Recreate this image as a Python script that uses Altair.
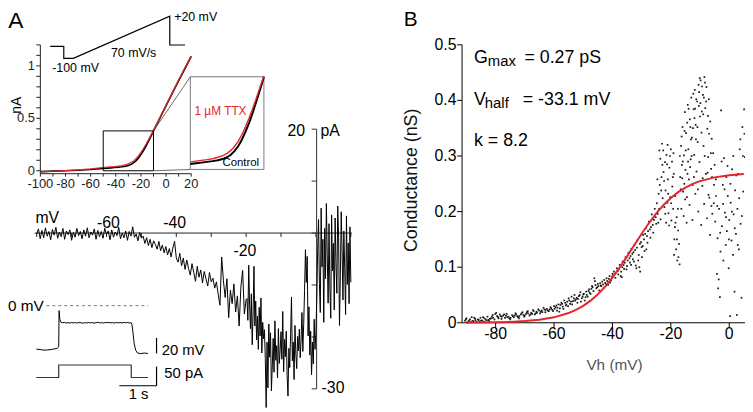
import altair as alt
import pandas as pd

FONT = "Liberation Sans"
RED = "#e4262c"
W, H = 753, 412

# ---------------- Panel A inset: ramp I-V (mV, nA) ----------------
iv_mv = [-100, -90, -80, -70, -60, -50, -47, -44, -41, -38, -35, -32, -30, -28, -26, -24, -22,
         -20, -18, -16, -14, -12, -10, -5, 0, 5, 10, 15, 20]
iv_control = [-0.008, -0.004, 0.000, 0.005, 0.012, 0.022, 0.025, 0.028, 0.031, 0.034, 0.038, 0.044,
              0.050, 0.060, 0.075, 0.095, 0.122, 0.155, 0.192, 0.235, 0.282, 0.330, 0.380,
              0.500, 0.620, 0.740, 0.860, 0.975, 1.090]
iv_ttx = [-0.011, -0.005, 0.001, 0.008, 0.018, 0.031, 0.034, 0.037, 0.040, 0.044, 0.050, 0.058,
          0.066, 0.078, 0.094, 0.115, 0.142, 0.175, 0.212, 0.252, 0.295, 0.340, 0.383,
          0.505, 0.625, 0.745, 0.865, 0.980, 1.095]
iv_xticks = [-100, -90, -80, -70, -60, -50, -40, -30, -20, -10, 0, 10, 20]
iv_xlabels = [-100, -80, -60, -40, -20, 0, 20]
iv_yticks = [0, 0.1, 0.2, 0.3, 0.4, 0.5, 0.6, 0.7, 0.8, 0.9, 1, 1.1, 1.2]
iv_ylabels = [(0, "0"), (0.5, "0.5"), (1, "1")]

# ramp protocol (s, mV)
ramp_t = [0, 0.24, 0.24, 0.41, 2.12, 2.12, 2.39]
ramp_mv = [-66, -66, -100, -100, 20, -62, -62]

# ---------------- Panel A main: current vs ramp voltage ----------------
trace_mv = [
    -80, -79.5, -79, -78.5, -78, -77.5, -77, -76.5, -76, -75.5,
    -75, -74.5, -74, -73.5, -73, -72.5, -72, -71.5, -71, -70.5,
    -70, -69.5, -69, -68.5, -68, -67.5, -67, -66.5, -66, -65.5,
    -65, -64.5, -64, -63.5, -63, -62.5, -62, -61.5, -61, -60.5,
    -60, -59.5, -59, -58.5, -58, -57.5, -57, -56.5, -56, -55.5,
    -55, -54.5, -54, -53.5, -53, -52.5, -52, -51.5, -51, -50.5,
    -50, -49.5, -49, -48.5, -48, -47.5, -47, -46.5, -46, -45.5,
    -45, -44.5, -44, -43.5, -43, -42.5, -42, -41.5, -41, -40.5,
    -40, -39.5, -39, -38.5, -38, -37.5, -37, -36.5, -36, -35.5,
    -35, -34.5, -34, -33.5, -33, -32.5, -32, -31.5, -31, -30.5,
    -30, -29.5, -29, -28.5, -28, -27.5, -27, -26.5, -26, -25.5,
    -25, -24.5, -24, -23.5, -23, -22.5, -22, -21.5, -21, -20.5, -20,
    -19.75, -19.5, -19.25, -19, -18.75, -18.5, -18.25, -18, -17.75, -17.5,
    -17.25, -17, -16.75, -16.5, -16.25, -16, -15.75, -15.5, -15.25, -15,
    -14.75, -14.5, -14.25, -14, -13.75, -13.5, -13.25, -13, -12.75, -12.5,
    -12.25, -12, -11.75, -11.5, -11.25, -11, -10.75, -10.5, -10.25, -10,
    -9.75, -9.5, -9.25, -9, -8.75, -8.5, -8.25, -8, -7.75, -7.5,
    -7.25, -7, -6.75, -6.5, -6.25, -6, -5.75, -5.5, -5.25, -5,
    -4.75, -4.5, -4.25, -4, -3.75, -3.5, -3.25, -3, -2.75, -2.5,
    -2.25, -2, -1.75, -1.5, -1.25, -1, -0.75, -0.5, -0.25, 0,
    0.25, 0.5, 0.75, 1, 1.25, 1.5, 1.75, 2, 2.25, 2.5,
    2.75, 3, 3.25, 3.5, 3.75, 4, 4.25, 4.5, 4.75, 5,
    5.25, 5.5, 5.75, 6, 6.25, 6.5, 6.75, 7, 7.25, 7.5,
    7.75, 8, 8.25, 8.5, 8.75, 9, 9.25, 9.5, 9.75, 10]
trace_pa = [
    -0.2, 0.8, -1.1, 0.5, -0.9, 1.0, -0.6, 0.3, -1.3, 0.7,
    -0.4, 1.1, -1.0, 0.2, -0.7, 0.9, -1.2, 0.4, -0.3, 0.6,
    -1.4, 0.1, -0.8, 0.9, -0.5, 0.3, -1.1, 0.6, -0.6, 1.0,
    -0.9, 0.2, -0.4, 0.8, -1.2, 0.5, -0.7, 0.3, -1.0, 0.9,
    -0.3, 0.4, -1.3, 0.6, -0.8, 0.2, -0.5, 1.1, -1.1, 0.0,
    -0.9, 0.4, -1.4, 0.3, -0.6, 1.2, -0.8, -0.2, -1.5, 0.1,
    -1.0, -0.6, -2.0, -0.9, -2.4, -1.2, -2.8, -1.5, -2.2, -3.1,
    -1.6, -3.4, -2.3, -3.8, -2.6, -4.2, -3.0, -4.6, -2.9, -1.6,
    -4.8, -5.6, -3.9, -6.3, -4.8, -7.0, -5.2, -6.8, -8.1, -5.9,
    -7.6, -9.3, -6.4, -8.5, -7.1, -9.6, -7.4, -8.8, -10.2, -7.6,
    -9.4, -8.7, -10.6, -9.4, -11.8, -13.9, -4.6, -9.2, -12.4, -8.8,
    -16.3, -11.0, -13.6, -9.8, -15.2, -12.1, -17.9, -10.4, -7.2, -15.6, -12.8,
    -12.6, -16.8, -6.2, -13.9, -18.4, -11.7, -21.5, -15.2, -6.4, -17.9,
    -13.1, -20.6, -16.0, -22.4, -14.3, -19.8, -12.5, -23.1, -17.2, -20.4,
    -18.6, -24.2, -33.6, -21.0, -29.8, -17.5, -23.9, -19.2, -30.4, -25.6,
    -20.3, -26.8, -16.9, -24.5, -21.7, -27.9, -18.4, -25.1, -22.6, -19.0,
    -24.3, -15.1, -26.7, -20.5, -23.8, -18.9, -27.5, -31.4, -22.2, -25.9,
    -19.4, -12.3, -24.6, -21.0, -28.2, -17.8, -23.4, -26.1, -19.9, -22.7,
    -18.5, -24.0, -20.6, -15.3, -22.8, -17.4, -11.0, -3.2, -9.5, -4.5,
    -19.8, -14.2, -23.5, -18.9, -27.3, -21.0, -25.2, -16.6, -22.4, -19.1,
    -12.4, -3.1, 2.6, -9.7, -15.3, 4.8, -6.5, -1.2, -17.2, 0.9,
    -8.8, 5.7, -4.4, -13.5, 1.8, -10.6, -16.4, 3.5, -7.3, -2.0,
    -14.8, 2.9, -5.9, -11.6, 5.2, -0.8, -17.8, -8.2, 4.1, -3.5,
    -12.9, 0.4, -6.8, -15.7, 3.3, -9.9, -1.9, -13.6, 1.2, -9.5]
trace_xticks = [-80, -70, -60, -50, -40, -30, -20, -10, 0, 10]
trace_yticks = [-30, -20, -10, 0, 10, 20]

# ---------------- Panel A bottom inset: membrane voltage and current step ----------------
vm_t = [0, 0.1, 0.2, 0.3, 0.4, 0.5, 0.56, 0.6, 0.61, 0.63, 0.66, 0.7,
        0.75, 0.8, 0.85, 0.9, 0.95, 1.0, 1.05, 1.1, 1.15, 1.2, 1.25, 1.3, 1.35, 1.4, 1.45,
        1.5, 1.55, 1.6, 1.65, 1.7, 1.75, 1.8, 1.85, 1.9, 1.95, 2.0, 2.05, 2.1, 2.15, 2.2,
        2.25, 2.3, 2.35, 2.4, 2.45, 2.5, 2.55,
        2.57, 2.6, 2.63, 2.67, 2.72, 2.8, 2.9, 3.0]
vm_mv = [-56.0, -56.5, -57.3, -57.0, -56.4, -55.6, -54.8, -53.0, -6.4, -17.5, -21.4, -22.0,
         -21.6, -22.3, -21.9, -22.5, -21.7, -22.2, -21.8, -22.4, -21.5, -22.1,
         -22.6, -21.9, -22.3, -21.6, -22.2, -21.8, -22.5, -22.0, -21.4, -22.3,
         -21.8, -22.4, -21.7, -22.0, -21.5, -22.2, -21.9, -22.4, -21.6, -22.1,
         -21.8, -22.3, -21.6, -22.0, -21.7, -22.2, -22.0,
         -24.5, -36.0, -49.0, -57.5, -61.0, -61.8, -61.0, -61.6]
step_t = [0, 0.6, 0.6, 2.55, 2.55, 3.0]
step_pa = [0, 0, 32.5, 32.5, 0, 0]

# ---------------- Panel B: conductance vs holding voltage ----------------
b_points = [
    (-90.5, .004), (-90.0, .008), (-89.4, .002), (-88.8, .006), (-88.2, .010), (-87.6, .003), (-87.0, .007),
    (-86.4, .001), (-85.8, .005), (-85.2, .009), (-84.6, .004), (-84.0, .002), (-83.4, .006), (-82.8, .011),
    (-82.2, .003), (-81.6, .008), (-81.0, .014), (-80.4, .006), (-79.8, .018), (-79.2, .010), (-78.6, .015),
    (-78.0, .007), (-77.4, .013), (-76.8, .009), (-76.2, .016), (-75.6, .011), (-75.0, .006), (-74.4, .014),
    (-73.8, .010), (-73.2, .017), (-72.6, .012), (-72.0, .008), (-71.4, .015), (-70.8, .019), (-70.2, .011),
    (-69.6, .016), (-69.0, .021), (-68.4, .013), (-67.8, .018), (-67.2, .023), (-66.6, .015), (-66.0, .020),
    (-65.4, .024), (-64.8, .017), (-64.2, .022), (-63.6, .027), (-63.0, .019), (-62.4, .025), (-61.8, .021),
    (-61.2, .028), (-60.6, .023), (-60.0, .030),
    (-89.7, .000), (-88.5, .001), (-86.9, .004), (-85.5, .002), (-83.9, .008), (-82.5, .005), (-80.9, .009),
    (-79.5, .012), (-77.9, .011), (-76.5, .013), (-74.9, .009), (-73.5, .013), (-71.9, .012), (-70.5, .014),
    (-68.9, .017), (-67.5, .016), (-65.9, .018), (-64.5, .020), (-62.9, .023), (-61.5, .024),
    (-59.5, .028), (-59.0, .022), (-58.5, .033), (-58.0, .026), (-57.5, .036), (-57.0, .029), (-56.5, .040),
    (-56.0, .031), (-55.5, .038), (-55.0, .044), (-54.5, .034), (-54.0, .047), (-53.5, .039), (-53.0, .050),
    (-52.5, .042), (-52.0, .036), (-51.5, .048), (-51.0, .055), (-50.5, .044), (-50.0, .051), (-49.5, .040),
    (-49.0, .056), (-48.5, .047), (-48.0, .060), (-47.5, .052), (-47.0, .066), (-46.5, .057), (-46.0, .075),
    (-45.5, .062), (-45.0, .070), (-44.5, .058), (-44.0, .067), (-43.5, .074), (-43.0, .063), (-42.5, .072),
    (-42.0, .080), (-41.5, .068), (-41.0, .084), (-40.5, .076), (-40.0, .088),
    (-58.2, .020), (-56.8, .025), (-55.2, .030), (-53.8, .033), (-52.2, .045), (-50.8, .038), (-49.2, .046),
    (-47.8, .054), (-46.2, .080), (-44.8, .066), (-43.2, .069), (-41.8, .075), (-40.2, .082),
    (-39.5, .092), (-39.0, .081), (-38.5, .098), (-38.0, .087), (-37.5, .104), (-37.0, .092), (-36.5, .110),
    (-36.0, .097), (-35.5, .118), (-35.0, .102), (-34.5, .126), (-34.0, .108), (-33.5, .133), (-33.0, .114),
    (-32.5, .140), (-32.0, .103), (-31.5, .148), (-31.0, .122), (-30.5, .092), (-30.0, .136), (-29.5, .158),
    (-29.0, .129), (-28.5, .170), (-28.0, .144), (-27.5, .182), (-27.0, .153), (-26.5, .195), (-26.0, .162),
    (-25.5, .205), (-25.0, .178),
    (-39.2, .088), (-38.2, .093), (-37.2, .084), (-36.2, .104), (-35.2, .096), (-34.2, .116), (-33.2, .124),
    (-32.2, .131), (-31.2, .112), (-30.2, .145), (-29.2, .150), (-28.2, .156), (-27.2, .168), (-26.2, .176),
    (-25.2, .190), (-31.8, .098), (-30.8, .100), (-36.8, .082),
    (-24.8, .215), (-24.5, .196), (-24.2, .232), (-24.0, .205), (-23.8, .248), (-23.5, .186), (-23.2, .262),
    (-23.0, .322), (-22.8, .224), (-22.5, .271), (-22.2, .208), (-22.0, .289), (-21.8, .238), (-21.5, .302),
    (-21.2, .216), (-21.0, .258), (-20.8, .197), (-20.5, .279), (-20.2, .226), (-20.0, .312), (-19.8, .184),
    (-19.5, .245), (-19.2, .205), (-19.0, .268), (-18.8, .150), (-18.5, .228), (-18.2, .132), (-18.0, .190),
    (-17.8, .112), (-17.5, .166), (-17.2, .142), (-17.0, .105),
    (-23.6, .295), (-22.6, .310), (-21.6, .180), (-20.6, .175), (-19.6, .290), (-18.6, .172), (-17.6, .205),
    (-16.8, .262), (-16.5, .318), (-16.2, .284), (-16.0, .352), (-15.8, .236), (-15.5, .301), (-15.2, .379),
    (-15.0, .275), (-14.8, .341), (-14.5, .226), (-14.2, .392), (-14.0, .312), (-13.8, .258), (-13.5, .366),
    (-13.2, .294), (-13.0, .405), (-12.8, .333), (-12.5, .248), (-12.2, .384), (-12.0, .302), (-11.8, .419),
    (-11.5, .356), (-11.2, .272), (-11.0, .398), (-10.8, .325), (-10.5, .428), (-10.2, .289), (-10.0, .371),
    (-9.8, .436), (-9.5, .342), (-9.2, .246), (-9.0, .410), (-8.8, .318), (-8.5, .442), (-8.2, .386),
    (-8.0, .268), (-7.8, .424), (-7.5, .349), (-7.2, .298), (-7.0, .402), (-6.8, .225), (-6.5, .362),
    (-6.2, .277), (-6.0, .331), (-5.8, .196), (-5.5, .305), (-5.2, .248), (-5.0, .284),
    (-16.4, .205), (-15.6, .192), (-14.6, .180), (-13.6, .212), (-12.6, .185), (-11.6, .232), (-10.6, .200),
    (-9.6, .176), (-8.6, .214), (-7.6, .188), (-6.6, .158), (-14.4, .360), (-12.4, .350), (-10.4, .390),
    (-9.4, .380), (-8.4, .300), (-7.4, .270), (-11.4, .330), (-13.4, .280), (-15.4, .250),
    (-4.8, .182), (-4.5, .228), (-4.2, .088), (-4.0, .152), (-3.8, .062), (-3.5, .205), (-3.2, .046),
    (-3.0, .128), (-2.8, .382), (-2.5, .174), (-2.2, .248), (-2.0, .112), (-1.8, .296), (-1.5, .198),
    (-1.2, .140), (-1.0, .262), (-0.8, .165), (-0.5, .228), (-0.2, .098), (0.0, .185), (0.3, .012),
    (0.5, .216), (0.8, .148), (1.0, .276), (1.3, .122), (1.5, .195), (1.8, .056), (2.0, .238),
    (2.3, .160), (2.6, .014), (2.8, .205), (3.0, .268), (3.3, .132), (3.6, .312), (3.9, .178),
    (4.2, .045), (4.5, .352), (4.8, .236), (5.1, .384), (5.3, .298)]

# additional dots read from the denser parts of the cloud
b_points_extra = [
    (-90.2, .006), (-89.1, .004), (-88.0, .003), (-87.3, .009), (-86.1, .006), (-85.0, .004), (-84.3, .010),
    (-83.1, .004), (-82.0, .007), (-81.3, .011), (-80.1, .016), (-79.0, .008), (-78.3, .012), (-77.1, .015),
    (-76.0, .010), (-75.3, .008), (-74.1, .012), (-73.0, .015), (-72.3, .010), (-71.1, .017), (-70.0, .013),
    (-69.3, .019), (-68.1, .015), (-67.0, .021), (-66.3, .017), (-65.1, .022), (-64.0, .019), (-63.3, .024),
    (-62.1, .022), (-61.0, .026), (-60.3, .021),
    (-59.8, .025), (-59.2, .031), (-58.8, .027), (-57.8, .032), (-57.2, .034), (-56.2, .036), (-55.8, .033),
    (-54.8, .040), (-54.2, .038), (-53.2, .044), (-52.8, .040), (-51.8, .043), (-51.2, .050), (-50.2, .047),
    (-49.8, .052), (-48.8, .050), (-48.2, .057), (-47.2, .061), (-46.8, .064), (-45.8, .068), (-45.2, .064),
    (-44.2, .071), (-43.8, .066), (-42.8, .077), (-42.2, .070), (-41.2, .079), (-40.8, .072),
    (-39.8, .085), (-38.8, .090), (-37.8, .096), (-36.6, .100), (-35.8, .108), (-34.8, .112), (-33.8, .120),
    (-32.8, .127), (-31.6, .135), (-30.6, .142), (-29.6, .138), (-28.8, .160), (-27.8, .165), (-26.8, .172),
    (-25.8, .185), (-33.6, .104), (-32.6, .110), (-29.9, .118), (-28.4, .132),
    (-24.6, .258), (-24.3, .180), (-23.3, .238), (-22.9, .284), (-22.3, .255), (-21.9, .196), (-21.3, .285),
    (-20.9, .232), (-20.3, .300), (-19.9, .215), (-19.3, .262), (-18.9, .122), (-18.4, .180), (-17.9, .150),
    (-17.4, .118), (-23.9, .310), (-21.1, .320), (-19.1, .305),
    (-16.9, .300), (-16.6, .240), (-16.3, .335), (-15.9, .290), (-15.3, .345), (-14.9, .310), (-14.3, .268),
    (-13.9, .385), (-13.3, .352), (-12.9, .300), (-12.3, .412), (-11.9, .368), (-11.3, .402), (-10.9, .352),
    (-10.3, .415), (-9.9, .395), (-9.3, .425), (-8.9, .375), (-8.3, .432), (-7.9, .398), (-7.3, .372),
    (-6.9, .340), (-6.3, .305), (-5.9, .262), (-5.3, .215), (-10.1, .440), (-8.7, .405), (-11.7, .385),
    (-13.1, .330), (-14.1, .290), (-15.1, .222), (-16.1, .260), (-9.1, .260), (-7.1, .230), (-6.1, .210),
    (-12.1, .262), (-10.7, .240),
    (-4.6, .258), (-4.1, .210), (-3.6, .078), (-3.1, .162), (-2.6, .290), (-2.1, .214), (-1.6, .240),
    (-1.1, .190), (-0.6, .282), (-0.1, .150), (0.4, .250), (0.9, .200), (1.4, .300), (1.9, .170),
    (2.4, .265), (2.9, .140), (3.4, .224), (3.8, .330), (4.3, .192), (4.7, .300), (5.2, .340)]

# Boltzmann fit
fit_vh = [-90, -85, -80, -75, -70, -65, -60, -55, -52.5, -50, -47.5, -45, -42.5, -40, -37.5, -35,
          -32.5, -30, -27.5, -25, -22.5, -20, -17.5, -15, -12.5, -10, -5, 0, 5]
fit_g = [0.0003, 0.0005, 0.0009, 0.0016, 0.0030, 0.0054, 0.0098, 0.0175, 0.0232, 0.0305, 0.0398,
         0.0512, 0.0651, 0.0813, 0.0996, 0.1194, 0.1399, 0.1602, 0.1794, 0.1967, 0.2118, 0.2245,
         0.2349, 0.2432, 0.2497, 0.2548, 0.2615, 0.2653, 0.2674]
b_xticks = [-80, -60, -40, -20, 0]
b_yticks = [(0, "0"), (0.1, "0.1"), (0.2, "0.2"), (0.3, "0.3"), (0.4, "0.4"), (0.5, "0.5")]


# ---------------- helpers ----------------
def S(domain, rng):
    return alt.Scale(domain=domain, range=rng, nice=False, zero=False)


def X(field, sc):
    return alt.X(field, type="quantitative", scale=sc, axis=None)


def Y(field, sc):
    return alt.Y(field, type="quantitative", scale=sc, axis=None)


def labels(rows, xs, ys, size, color="black", **mk):
    df = pd.DataFrame(rows, columns=["x", "y", "t"])
    return alt.Chart(df).mark_text(font=FONT, fontSize=size, color=color, **mk).encode(
        x=X("x", xs), y=Y("y", ys), text=alt.Text("t:N"))


def rules(rows, xs, ys, **mk):
    df = pd.DataFrame(rows, columns=["x1", "x2", "y1", "y2"])
    return alt.Chart(df).mark_rule(**mk).encode(
        x=X("x1", xs), x2="x2", y=Y("y1", ys), y2="y2")


def haxis(xs, ys, x0, x1, y0, ticks, tick_len, color="black"):
    rows = [(x0, x1, y0, y0)] + [(t, t, y0, y0 - tick_len) for t in ticks]
    return rules(rows, xs, ys, color=color, strokeWidth=1)


def vaxis(xs, ys, x0, y0, y1, ticks, tick_len, color="black"):
    rows = [(x0, x0, y0, y1)] + [(x0, x0 - tick_len, t, t) for t in ticks]
    return rules(rows, xs, ys, color=color, strokeWidth=1)


# ---------------- group: I-V inset ----------------
xs_iv = S([-100, 20], [40.7, 193.2])
ys_iv = S([-0.028, 1.2], [173.3, 43.1])
iv_df = pd.DataFrame({"mv": iv_mv, "control": iv_control, "ttx": iv_ttx})
iv_group = alt.layer(
    haxis(xs_iv, ys_iv, -100, 20, -0.028, iv_xticks, 0.028, color="#222"),
    vaxis(xs_iv, ys_iv, -100, -0.028, 1.2, iv_yticks, 3.2, color="#222"),
    labels([(v, -0.1667, str(v)) for v in iv_xlabels], xs_iv, ys_iv, 13, color="#222",
           align="center", baseline="alphabetic"),
    labels([(-104.3, v, s) for v, s in iv_ylabels], xs_iv, ys_iv, 13, color="#222",
           align="right", baseline="middle"),
    alt.Chart(iv_df).mark_line(color="black", strokeWidth=1.7).encode(x=X("mv", xs_iv), y=Y("control", ys_iv)),
    alt.Chart(iv_df).mark_line(color=RED, strokeWidth=1.2).encode(x=X("mv", xs_iv), y=Y("ttx", ys_iv)),
    alt.Chart(pd.DataFrame({"x1": [-50], "x2": [-10], "y1": [0.0], "y2": [0.38]})).mark_rect(
        fillOpacity=0, stroke="black", strokeWidth=1).encode(
        x=X("x1", xs_iv), x2="x2", y=Y("y1", ys_iv), y2="y2"),
    rules([(-10, 19.3, 0.38, 0.896), (-10, 19.3, 0.0, 0.012)], xs_iv, ys_iv, color="#444", strokeWidth=0.8),
    labels([(-125.6, 1.3612, "A")], xs_iv, ys_iv, 23, align="left", baseline="alphabetic"),
    labels([(-118.6, 0.625, "nA")], xs_iv, ys_iv, 14, align="center", baseline="middle", angle=270),
)

# ---------------- group: magnified box ----------------
xs_z = S([-50, -10], [192.3, 266.7])
ys_z = S([0, 0.38], [169, 75.3])
zoom_df = iv_df[(iv_df["mv"] >= -50) & (iv_df["mv"] <= -10)]
zoom_group = alt.layer(
    alt.Chart(pd.DataFrame({"x1": [-50], "x2": [-10], "y1": [0.0], "y2": [0.38]})).mark_rect(
        fillOpacity=0, stroke="#777", strokeWidth=1).encode(
        x=X("x1", xs_z), x2="x2", y=Y("y1", ys_z), y2="y2"),
    alt.Chart(zoom_df).mark_line(color="black", strokeWidth=2).encode(x=X("mv", xs_z), y=Y("control", ys_z)),
    alt.Chart(zoom_df).mark_line(color=RED, strokeWidth=1.4).encode(x=X("mv", xs_z), y=Y("ttx", ys_z)),
    labels([(-33.6, 0.2231, "1 \u00b5M TTX")], xs_z, ys_z, 12, color=RED, align="center", baseline="alphabetic"),
    labels([(-22.58, 0.0122, "Control")], xs_z, ys_z, 11.5, align="center", baseline="alphabetic"),
)

# ---------------- group: ramp protocol ----------------
xs_r = S([0, 2.39], [50.7, 186.93])
ys_r = S([-100, 20], [56.7, 14])
ramp_df = pd.DataFrame({"t": ramp_t, "mv": ramp_mv, "i": list(range(len(ramp_t)))})
ramp_group = alt.layer(
    alt.Chart(ramp_df).mark_line(color="black", strokeWidth=1.2).encode(
        x=X("t", xs_r), y=Y("mv", ys_r), order="i:Q"),
    labels([(1.479, -95.2, "70 mV/s")], xs_r, ys_r, 12.5, align="center", baseline="alphabetic"),
    labels([(0.035, -140.2, "-100 mV"), (2.198, 7.35, "+20 mV")], xs_r, ys_r, 12.5,
           align="left", baseline="alphabetic"),
)

# ---------------- group: main current trace ----------------
xs_m = S([-80.6, 10.3], [34.9, 355.6])
ys_m = S([-30, 20], [390.8, 128.3])
trace_df = pd.DataFrame({"mv": trace_mv, "pa": trace_pa})
trace_group = alt.layer(
    haxis(xs_m, ys_m, -80.6, 10.3, 0, trace_xticks, 0.76, color="#222"),
    vaxis(xs_m, ys_m, 0.2, -30, 20, trace_yticks, 1.42, color="#333"),
    alt.Chart(trace_df).mark_line(color="black", strokeWidth=1).encode(x=X("mv", xs_m), y=Y("pa", ys_m)),
    labels([(-80.36, 1.87, "mV"), (1.33, 18.72, "pA"), (1.62, -30.8, "-30")], xs_m, ys_m, 16,
           align="left", baseline="alphabetic"),
    labels([(-59.45, 0.91, "-60"), (-40.5, 1.01, "-40"), (-20.35, -4.42, "-20")], xs_m, ys_m, 16,
           align="center", baseline="alphabetic"),
    labels([(-3.12, 18.72, "20")], xs_m, ys_m, 16, align="right", baseline="alphabetic"),
)

# ---------------- group: voltage response ----------------
xs_t = S([0, 3], [36.7, 149.5])
ys_v = S([-70, 0], [361.65, 306.7])
vm_df = pd.DataFrame({"t": vm_t, "mv": vm_mv})
vm_group = alt.layer(
    rules([(0.27, 3.0, 0.0, 0.0)], xs_t, ys_v, color="#777", strokeWidth=1, strokeDash=[3, 3]),
    alt.Chart(vm_df).mark_line(color="black", strokeWidth=1).encode(x=X("t", xs_t), y=Y("mv", ys_v)),
    rules([(3.23, 3.23, -61.5, -41.5)], xs_t, ys_v, color="black", strokeWidth=1.2),
    labels([(-0.763, -6.37, "0 mV")], xs_t, ys_v, 15.5, align="left", baseline="alphabetic"),
    labels([(3.367, -63.44, "20 mV")], xs_t, ys_v, 15, align="left", baseline="alphabetic"),
)

# ---------------- group: current step ----------------
ys_i = S([-25, 35], [389.0, 365.73])
step_df = pd.DataFrame({"t": step_t, "pa": step_pa, "i": list(range(len(step_t)))})
step_group = alt.layer(
    alt.Chart(step_df).mark_line(color="#333", strokeWidth=1.2).encode(
        x=X("t", xs_t), y=Y("pa", ys_i), order="i:Q"),
    rules([(3.23, 3.23, -21.6, 28.4), (2.23, 3.23, -21.6, -21.6)], xs_t, ys_i, color="black", strokeWidth=1.2),
    labels([(3.439, -1.8, "50 pA")], xs_t, ys_i, 15, align="left", baseline="alphabetic"),
    labels([(2.747, -57.25, "1 s")], xs_t, ys_i, 15, align="center", baseline="alphabetic"),
)

# ---------------- group: panel B ----------------
xs_b = S([-91.5, 5.4], [467, 753])
ys_b = S([0, 0.5], [324, 43])
pts_df = pd.DataFrame(b_points + b_points_extra, columns=["vh", "g"])
fit_df = pd.DataFrame({"vh": fit_vh, "g": fit_g})
b_group = alt.layer(
    haxis(xs_b, ys_b, -91.5, 6, 0, b_xticks, 0.0089),
    vaxis(xs_b, ys_b, -91.5, 0, 0.5, [v for v, _ in b_yticks], 1.69),
    labels([(v, -0.0285, str(v)) for v in b_xticks], xs_b, ys_b, 16, align="center", baseline="alphabetic"),
    labels([(-93.4, v, s) for v, s in b_yticks], xs_b, ys_b, 16, align="right", baseline="middle"),
    alt.Chart(pts_df).mark_square(size=3, color="black", opacity=0.9).encode(x=X("vh", xs_b), y=Y("g", ys_b)),
    alt.Chart(fit_df).mark_line(color=RED, strokeWidth=2).encode(x=X("vh", xs_b), y=Y("g", ys_b)),
    labels([(-87.43, 0.4671, "G"), (-70.14, 0.4671, "= 0.27 pS"), (-87.43, 0.3915, "V"),
            (-70.72, 0.3915, "= -33.1 mV"), (-87.43, 0.3185, "k = 8.2")], xs_b, ys_b, 18,
           align="left", baseline="alphabetic"),
    labels([(-82.69, 0.4617, "max"), (-83.7, 0.3861, "half")], xs_b, ys_b, 15,
           align="left", baseline="alphabetic"),
    labels([(-111.5, 0.5338, "B")], xs_b, ys_b, 21, align="left", baseline="alphabetic"),
    labels([(-108.62, 0.2562, "Conductance (nS)")], xs_b, ys_b, 18, color="#111",
           align="center", baseline="middle", angle=270),
    labels([(-39.3, -0.0845, "Vh (mV)")], xs_b, ys_b, 15.5, color="#555",
           align="center", baseline="alphabetic"),
)

chart = alt.layer(
    iv_group, zoom_group, ramp_group, trace_group, vm_group, step_group, b_group
).resolve_scale(x="independent", y="independent").properties(
    width=W, height=H,
    padding={"left": -8, "top": -8, "right": 0, "bottom": 0},
    autosize=alt.AutoSizeParams(type="none"),
).configure_view(stroke=None)

chart.save("out.html", embed_options={"renderer": "svg", "actions": False})
